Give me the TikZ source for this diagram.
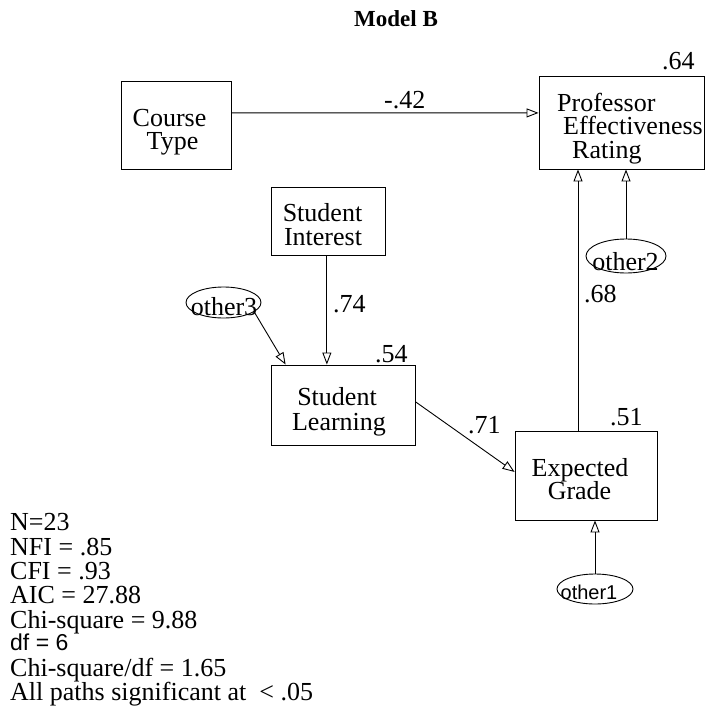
\documentclass[tikz,border=0pt]{standalone}
\usepackage{fontspec}
\setmainfont{Liberation Serif}
\newfontfamily\arialfont{Liberation Sans}
\usetikzlibrary{arrows.meta,shapes.geometric,calc}

\begin{document}
\begin{tikzpicture}[x=1pt,y=-1pt,
  varbox/.style={draw, line width=0.9pt, rectangle, inner sep=0pt},
  errterm/.style={draw, line width=0.9pt, ellipse, inner sep=0pt},
  txt/.style={inner sep=0pt, anchor=base, font=\fontsize{26}{24}\selectfont},
  txtl/.style={txt, anchor=base west},
  sanstxt/.style={inner sep=0pt, anchor=base, font=\arialfont\fontsize{20}{24}\selectfont},
  link/.style={line width=0.9pt, -{Triangle[open,length=12pt,width=9pt]}},
]
\useasboundingbox (0,0) rectangle (706,706);

% title
\node[inner sep=0pt, anchor=base, font=\bfseries\fontsize{23}{24}\selectfont] (title) at (396,27) {Model B};

% observed variables
\node[varbox, minimum width=110pt, minimum height=88pt] (ct) at (176,125) {};
\node[varbox, minimum width=165.5pt, minimum height=93pt] (pr) at (621.75,122.5) {};
\node[varbox, minimum width=114pt, minimum height=68pt] (si) at (328,221) {};
\node[varbox, minimum width=144pt, minimum height=80pt] (sl) at (343,405) {};
\node[varbox, minimum width=142pt, minimum height=89pt] (eg) at (586,475.5) {};

% error terms
\node[errterm, minimum width=75pt, minimum height=31pt] (o3) at (223.5,302.5) {};
\node[errterm, minimum width=80pt, minimum height=34pt] (o2) at (626,256) {};
\node[errterm, minimum width=76pt, minimum height=30pt] (o1) at (595,589) {};

% box texts
\node[txt] (ct1) at (169.5,126) {Course};
\node[txt] (ct2) at (172.5,149) {Type};
\node[txtl] (pr1) at (557,111) {Professor};
\node[txtl] (pr2) at (563,135) {Effectiveness};
\node[txtl] (pr3) at (572,158) {Rating};
\node[txt] (si1) at (322.5,221) {Student};
\node[txt] (si2) at (323,245) {Interest};
\node[txt] (sl1) at (337,405) {Student};
\node[txt] (sl2) at (339,430) {Learning};
\node[txt] (eg1) at (580,476) {Expected};
\node[txt] (eg2) at (579.5,499) {Grade};

% error term texts
\node[txt] (o3t) at (224,315) {other3};
\node[txt] (o2t) at (625.5,270) {other2};
\node[sanstxt] (o1t) at (589,599) {other1};

% paths
\coordinate (sia) at ($(si.south west)!0.49!(si.south east)$);
\coordinate (ega) at ($(eg.north west)!0.444!(eg.north east)$);
\draw[link] ($(ct.north east)!0.364!(ct.south east)$) -- ($(pr.north west)!0.398!(pr.south west)$);
\draw[link] (sia) -- (sia |- sl.north);
\draw[link] (o3.-17) -- ($(sl.north west)!0.104!(sl.north east)$);
\draw[link] ($(sl.north east)!0.46!(sl.south east)$) -- ($(eg.north west)!0.46!(eg.south west)$);
\draw[link] (ega) -- (ega |- pr.south);
\draw[link] (o2.north) -- (o2.north |- pr.south);
\draw[link] (o1.north) -- (o1.north |- eg.south);

% coefficients and R-squared values
\node[txtl] (c42) at (384,109) {-.42};
\node[txtl] (r64) at (662,70) {.64};
\node[txtl] (c74) at (333,312) {.74};
\node[txtl] (r54) at (375,362) {.54};
\node[txtl] (c71) at (468,433) {.71};
\node[txtl] (r51) at (610,425) {.51};
\node[txtl] (c68) at (584,302) {.68};

% fit statistics
\node[txtl] (s1) at (10,530) {N=23};
\node[txtl] (s2) at (10,555) {NFI = .85};
\node[txtl] (s3) at (10,579) {CFI = .93};
\node[txtl] (s4) at (10,603) {AIC = 27.88};
\node[txtl] (s5) at (10,628) {Chi-square = 9.88};
\node[sanstxt, anchor=base west, font=\arialfont\fontsize{23}{24}\selectfont] (s6) at (10,650) {df = 6};
\node[txtl] (s7) at (10,676) {Chi-square/df = 1.65};
\node[txtl] (s8) at (10,700) {All paths significant at~ < .05};
\end{tikzpicture}
\end{document}
